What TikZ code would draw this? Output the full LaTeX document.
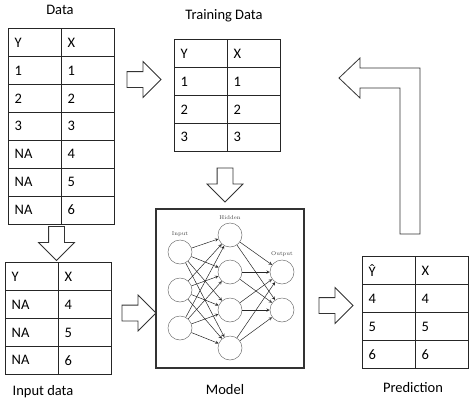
\documentclass[tikz,border=0pt]{standalone}
\usepackage{fontspec}
\setmainfont{Carlito}
\usetikzlibrary{matrix,shapes.arrows}

\begin{document}
\begin{tikzpicture}[x=1pt,y=-1pt,
  cell/.style={draw=black!85,line width=0.9pt,minimum height=27.9pt,text width=41pt,
    inner xsep=6pt,align=left,anchor=center,font=\fontsize{14.5}{16}\selectfont},
  tbl/.style={matrix of nodes,nodes={cell},column sep=-0.9pt,row sep=-0.9pt,
    inner sep=0pt,anchor=north west},
  blk/.style={single arrow,draw=black!80,line width=0.8pt,fill=white,inner xsep=0pt,
    inner ysep=7.5pt,single arrow head extend=10pt,minimum height=34pt},
  neuron/.style={circle,draw=black!55,line width=0.5pt,minimum size=24pt,inner sep=0pt},
  wire/.style={-stealth,draw=black!85,line width=0.5pt},
  nnlabel/.style={font=\fontfamily{lmr}\fontsize{5.5}{6}\selectfont,text=black!75},
  caption/.style={font=\fontsize{14.5}{16}\selectfont}]

\useasboundingbox (0,0) rectangle (474,402);

% tables
\matrix[tbl] (data) at (8,28)
{
  Y & X \\
  1 & 1 \\
  2 & 2 \\
  3 & 3 \\
  NA & 4 \\
  NA & 5 \\
  NA & 6 \\
};
\matrix[tbl] (train) at (174,39)
{
  Y & X \\
  1 & 1 \\
  2 & 2 \\
  3 & 3 \\
};
\matrix[tbl] (input) at (5,262)
{
  Y & X \\
  NA & 4 \\
  NA & 5 \\
  NA & 6 \\
};
\matrix[tbl] (pred) at (362,256)
{
  Ŷ & X \\
  4 & 4 \\
  5 & 5 \\
  6 & 6 \\
};

\node[caption] (datacap) at (60,10) {Data};
\node[caption] (traincap) at (224,16) {Training Data};
\node[caption] (inputcap) at (43,392) {Input data};
\node[caption] (modelcap) at (225,390) {Model};
\node[caption] (predcap) at (413,388) {Prediction};

% block arrows
\node[blk] (a1) at (140,79.5) {};
\node[blk,rotate=-90] (a2) at (225,181) {};
\node[blk,rotate=-90] (a3) at (56.5,239.5) {};
\node[blk] (a4) at (135,313) {};
\node[blk] (a5) at (332,305.5) {};
\draw[draw=black!80,line width=0.8pt,fill=white]
  (400,234) -- (400,88) -- (360,88) -- (360,98) -- (339,78) -- (360,58)
  -- (360,68) -- (420,68) -- (420,234) -- cycle;

% model
\node[draw=black!80,line width=1.2pt,minimum width=148pt,minimum height=159pt,
  inner sep=0pt] (model) at (230,288.5) {};
\foreach \i/\y in {1/252,2/290,3/328}
  \node[neuron] (in\i) at (180,\y) {};
\foreach \i/\y in {1/235,2/272,3/310,4/348}
  \node[neuron] (hid\i) at (230,\y) {};
\foreach \i/\y in {1/272,2/310}
  \node[neuron] (out\i) at (282,\y) {};
\foreach \i in {1,2,3}
  \foreach \j in {1,...,4}
    \draw[wire] (in\i) -- (hid\j);
\foreach \j in {1,...,4}
  \foreach \k in {1,2}
    \draw[wire] (hid\j) -- (out\k);
\node[nnlabel,above=0pt] (inlab) at (in1.north) {Input};
\node[nnlabel,above=0pt] (hidlab) at (hid1.north) {Hidden};
\node[nnlabel,above=0pt] (outlab) at (out1.north) {Output};

\end{tikzpicture}
\end{document}
